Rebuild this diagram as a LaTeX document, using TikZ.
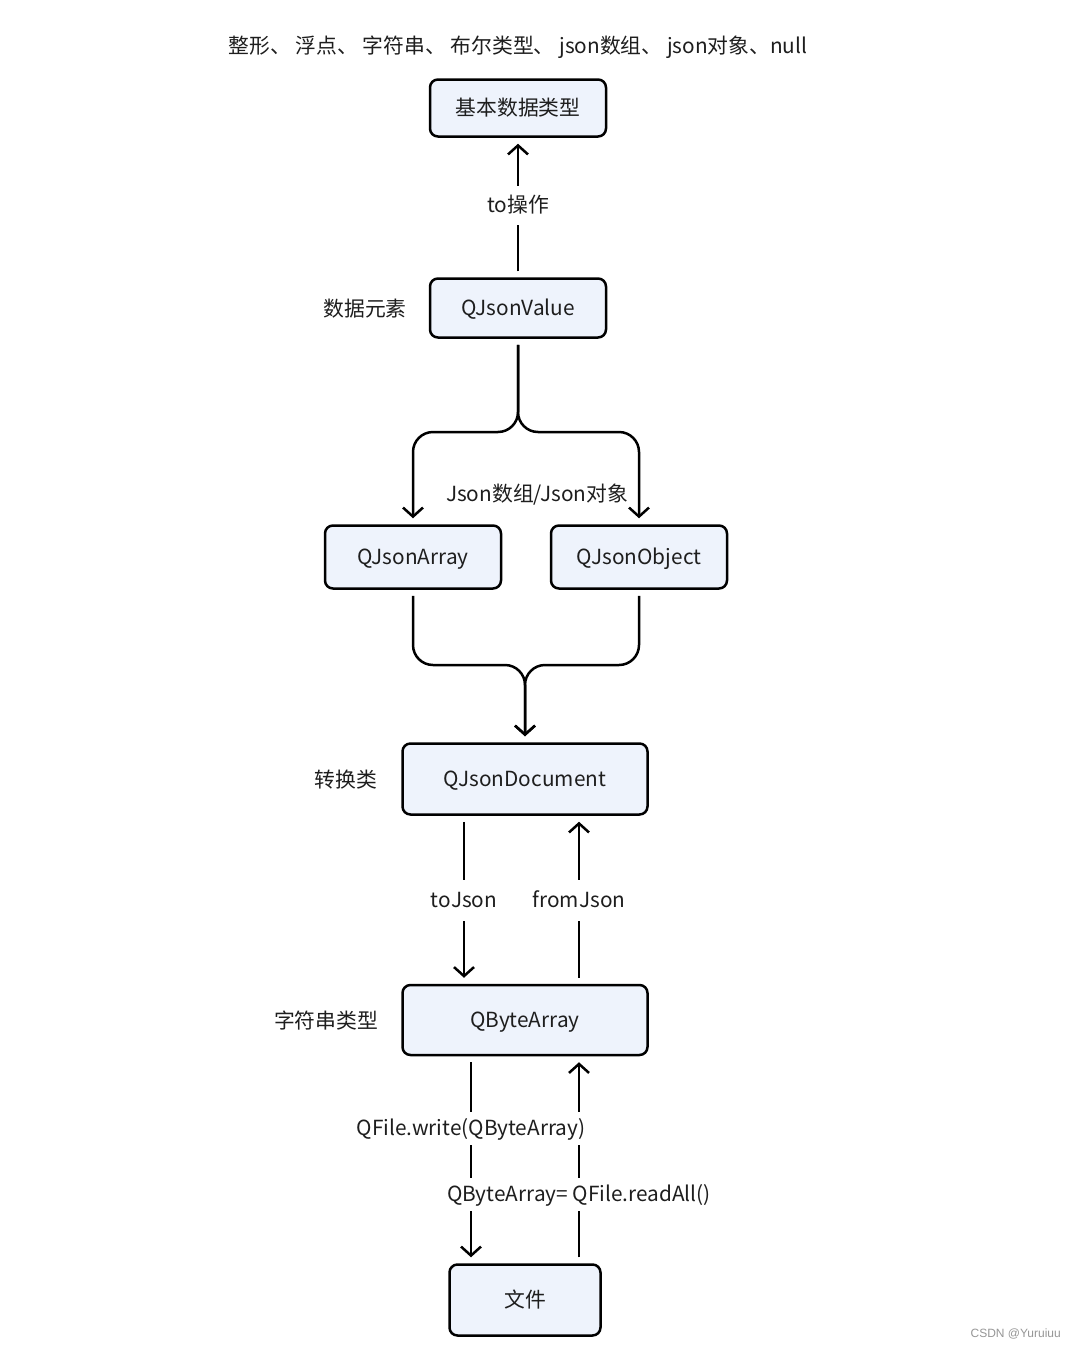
\documentclass[tikz,border=0pt]{standalone}
\usepackage{fontspec}
\setmainfont{Noto Sans CJK SC}
\newfontfamily\wmfont{Liberation Sans}
\usetikzlibrary{arrows.meta}
\definecolor{boxfill}{RGB}{238,243,252}
\definecolor{wmgray}{RGB}{150,150,150}
\definecolor{txt}{RGB}{30,30,30}
\tikzset{
  txtfont/.style={font=\fontsize{20.8}{25}\selectfont, text=txt, text height=15pt, text depth=0pt},
  box/.style={draw=black, line width=2.5pt, fill=boxfill, rounded corners=8pt,
    txtfont, inner sep=0pt},
  arr/.style={line width=2.5pt, -{Straight Barb[length=9pt,width=20pt,line width=2.5pt]},
    shorten >=6pt, shorten <=6pt},
  conn/.style={line width=2.5pt, rounded corners=20pt},
  lbl/.style={fill=white, inner sep=3pt, txtfont},
  side/.style={inner sep=0pt, txtfont}
}
\begin{document}
\begin{tikzpicture}[x=1pt, y=-1pt]
\useasboundingbox[fill=white] (0,0) rectangle (1076,1349);

\node[side] (types) at (518,46) {整形、 浮点、 字符串、 布尔类型、 json数组、 json对象、null};

\node[box, minimum width=176pt, minimum height=57pt] (basic) at (518,108) {基本数据类型};
\node[box, minimum width=176pt, minimum height=59pt] (val) at (518,308) {QJsonValue};
\node[box, minimum width=176pt, minimum height=63pt] (arr) at (413,557) {QJsonArray};
\node[box, minimum width=176pt, minimum height=63pt] (obj) at (639,557) {QJsonObject};
\node[box, minimum width=245pt, minimum height=71pt] (doc) at (525,779) {QJsonDocument};
\node[box, minimum width=245pt, minimum height=70pt] (ba) at (525,1020) {QByteArray};
\node[box, minimum width=151pt, minimum height=71pt] (file) at (525,1300) {文件};

\node[side] (s1) at (365,309) {数据元素};
\node[side] (s2) at (346,780) {转换类};
\node[side] (s3) at (326,1021) {字符串类型};

% to operation
\draw[arr] (val.north) -- (basic.south);

% split
\coordinate (splitL) at (413,432);
\coordinate (splitR) at (639,432);
\draw[conn, -{Straight Barb[length=9pt,width=20pt,line width=2.5pt]}, shorten <=6pt, shorten >=6pt]
  (val.south) -- (val.south |- splitL) -- (splitL) -- (arr.north);
\draw[conn, -{Straight Barb[length=9pt,width=20pt,line width=2.5pt]}, shorten <=6pt, shorten >=6pt]
  (val.south) -- (val.south |- splitR) -- (splitR) -- (obj.north);

% merge
\coordinate (mergeL) at (413,665);
\coordinate (mergeR) at (639,665);
\draw[conn, -{Straight Barb[length=9pt,width=20pt,line width=2.5pt]}, shorten <=6pt, shorten >=6pt]
  (arr.south) -- (mergeL) -- (doc.north |- mergeL) -- (doc.north);
\draw[conn, -{Straight Barb[length=9pt,width=20pt,line width=2.5pt]}, shorten <=6pt, shorten >=6pt]
  (obj.south) -- (mergeR) -- (doc.north |- mergeR) -- (doc.north);

% toJson / fromJson
\draw[arr] ([xshift=-61pt]doc.south) -- ([xshift=-61pt]ba.north);
\draw[arr] ([xshift=54pt]ba.north) -- ([xshift=54pt]doc.south);

% write / readAll
\draw[arr] ([xshift=-54pt]ba.south) -- ([xshift=-54pt]file.north);
\draw[arr] ([xshift=54pt]file.north) -- ([xshift=54pt]ba.south);

% labels
\node[lbl, inner ysep=12pt] (l0) at (518,205) {to操作};
\node[lbl, inner sep=1pt] (l1) at (537,494) {Json数组/Json对象};
\node[lbl, inner ysep=13pt] (l2) at (464,900) {toJson};
\node[lbl, inner ysep=13pt] (l3) at (579,900) {fromJson};
\node[lbl, inner ysep=9pt] (l4) at (471,1128) {QFile.write(QByteArray)};
\node[lbl, inner ysep=9pt] (l5) at (579,1194) {QByteArray= QFile.readAll()};

\node[inner sep=0pt, text=wmgray, font=\wmfont\fontsize{12}{14}\selectfont, anchor=east] (wm) at (1061,1334) {CSDN @Yuruiuu};
\end{tikzpicture}
\end{document}
